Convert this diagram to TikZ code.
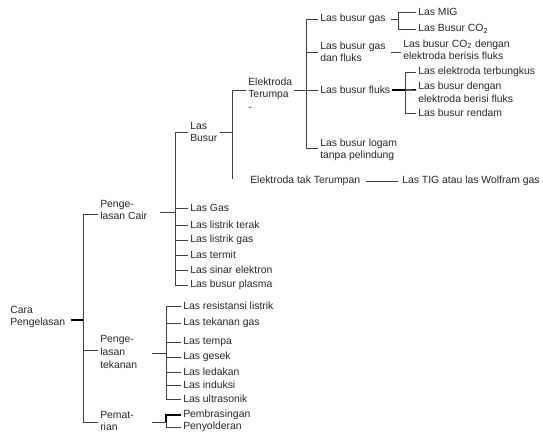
\documentclass[tikz,border=0pt]{standalone}
\usepackage{fontspec}
\setmainfont{Liberation Sans}
\begin{document}
\begin{tikzpicture}[x=0.75pt,y=-0.75pt,
  lbl/.style={anchor=west,inner xsep=1.5pt,inner ysep=0pt,align=left,
    font=\fontsize{7.8}{9.4}\selectfont,text=black!85},
  ln/.style={draw=black!75,line width=0.6pt},
  thk/.style={draw=black,line width=1.1pt}]
\useasboundingbox (0,0) rectangle (543,436);

% level 0
\node[lbl] (cara) at (8,317) {Cara\\Pengelasan};
\node[lbl] (cair) at (98,210) {Penge-\\lasan Cair};
\node[lbl] (tek)  at (98,352) {Penge-\\lasan\\tekanan};
\node[lbl] (pem)  at (98,421) {Pemat-\\rian};
\coordinate (b0) at (83,320);
\draw[thk,shorten <=3pt] (cara.east |- b0) -- (b0);
\draw[ln] ([yshift=-3pt]cair.west) -| (b0);
\draw[ln] ([yshift=1.5pt]tek.west) -| (b0);
\draw[ln] ([yshift=-0.75pt]pem.west) -| (b0);

% pengelasan cair
\coordinate (b1) at (175,212);
\node[lbl] (busur)  at (188,132) {Las\\Busur};
\node[lbl] (gas)    at (188,208) {Las Gas};
\node[lbl] (terak)  at (188,225) {Las listrik terak};
\node[lbl] (lgas)   at (188,240) {Las listrik gas};
\node[lbl] (termit) at (188,255) {Las termit};
\node[lbl] (sinar)  at (188,270) {Las sinar elektron};
\node[lbl] (plasma) at (188,285) {Las busur plasma};
\draw[ln,shorten <=8pt] (cair.east |- b1) -- (b1);
\foreach \n in {busur,gas,terak,lgas,termit,sinar,plasma}
  \draw[ln] (\n.west) -| (b1);

% las busur
\coordinate (b2) at (232,132);
\node[lbl] (et)   at (246,94) {Elektroda\\Terumpa\\-};
\node[lbl] (etak) at (248,181) {Elektroda tak Terumpan};
\draw[ln] (busur.east) -- (b2);
\draw[ln] ([yshift=3pt]et.west) -| (b2);
\draw[ln] (b2) -- ([yshift=-2pt]b2 |- etak.north);

% elektroda terumpan
\coordinate (b3) at (306,90);
\node[lbl] (bg)  at (318,19) {Las busur gas};
\node[lbl] (bgf) at (318,52) {Las busur gas\\dan fluks};
\node[lbl] (bf)  at (318,90) {Las busur fluks};
\node[lbl] (bl)  at (318,150) {Las busur logam\\tanpa pelindung};
\draw[ln] ([yshift=3pt]et.east) -- (b3);
\draw[ln] (bg.west) -| (b3);
\draw[ln] (bgf.west) -| (b3);
\draw[ln] (bf.west) -- (b3);
\draw[ln] ([yshift=1.5pt]bl.west) -| (b3);

% las busur gas
\coordinate (b4) at (398,19);
\node[lbl] (mig) at (416,12) {Las MIG};
\node[lbl] (co2) at (416,29) {Las Busur CO\textsubscript{2}};
\draw[ln,shorten <=2pt] (bg.east) -- (b4);
\draw[ln] (mig.west) -| (b4);
\draw[ln] (co2.west) -| (b4);

% las busur gas dan fluks
\node[lbl] (bgfc) at (401,50) {Las busur CO\textsubscript{2} dengan\\elektroda berisis fluks};
\draw[ln,shorten <=2pt] (bgf.east) -- (bgf.east -| bgfc.west);

% las busur fluks
\coordinate (b5) at (405,90);
\node[lbl] (terb)   at (416,72) {Las elektroda terbungkus};
\node[lbl] (dengan) at (416,92.5) {Las busur dengan\\elektroda berisi fluks};
\node[lbl] (rendam) at (416,113) {Las busur rendam};
\draw[thk] (bf.east) -- (b5);
\draw[ln] (terb.west) -| (b5);
\draw[thk] ([yshift=1.9pt]dengan.west) -- (b5);
\draw[ln] (rendam.west) -| (b5);

% elektroda tak terumpan
\node[lbl] (tig) at (400,181) {Las TIG atau las Wolfram gas};
\draw[ln,shorten <=3pt,shorten >=1.5pt] (etak.east) -- (tig.west);

% pengelasan tekanan
\coordinate (b6) at (166,353);
\node[lbl] (res)   at (181,306) {Las resistansi listrik};
\node[lbl] (tgas)  at (181,323) {Las tekanan gas};
\node[lbl] (tempa) at (181,342) {Las tempa};
\node[lbl] (gesek) at (181,357) {Las gesek};
\node[lbl] (ledak) at (181,372) {Las ledakan};
\node[lbl] (induk) at (181,385) {Las induksi};
\node[lbl] (ultra) at (181,399) {Las ultrasonik};
\draw[ln,shorten <=9pt] (tek.east |- b6) -- (b6);
\foreach \n in {res,tgas,tempa,gesek,ledak,induk,ultra}
  \draw[ln] (\n.west) -| (b6);

% pematrian
\coordinate (b7) at (166,422);
\node[lbl] (pembr)  at (181,415) {Pembrasingan};
\node[lbl] (penyol) at (181,427) {Penyolderan};
\draw[ln,shorten <=12pt] (pem.east |- b7) -- (b7);
\draw[thk] (pembr.west) -| (b7);
\draw[ln] (penyol.west) -| (b7);
\end{tikzpicture}
\end{document}
